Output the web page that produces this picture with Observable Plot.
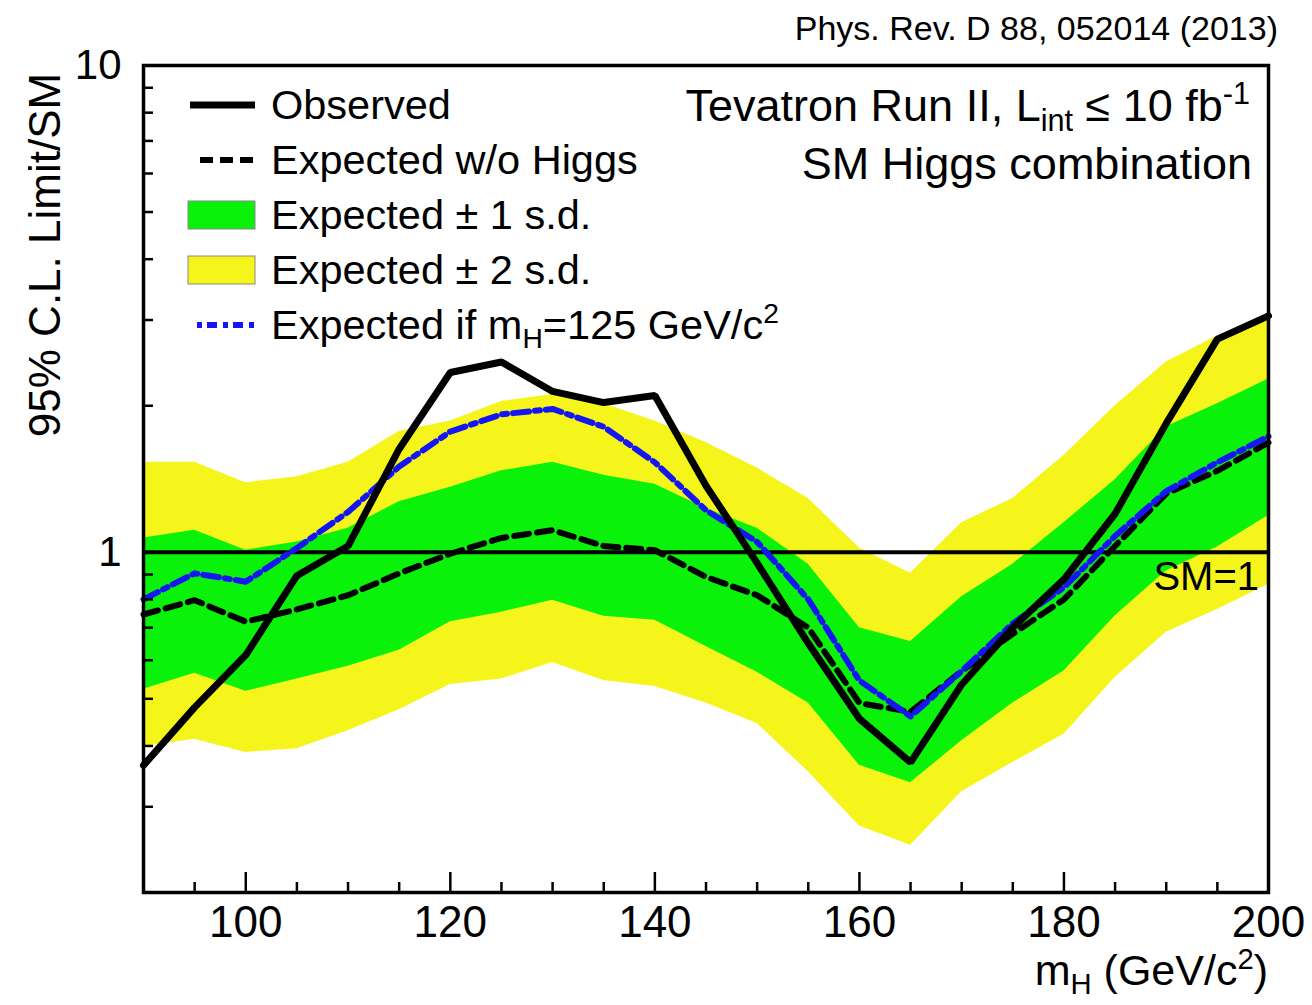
<!DOCTYPE html>
<html><head><meta charset="utf-8">
<script src="https://cdn.jsdelivr.net/npm/d3@7"></script>
<script src="https://cdn.jsdelivr.net/npm/@observablehq/plot@0.6"></script>
<style>
body{margin:0;background:#fff;}
#chart{width:1312px;height:1005px;}
</style></head><body><div id="chart"></div>
<script>
// Higgs mass points (GeV/c^2)
const mass = [90,95,100,105,110,115,120,125,130,135,140,145,150,155,160,165,170,175,180,185,190,195,200];
// 95% C.L. limit / SM
const observed    = [0.365,0.48,0.615,0.895,1.03,1.63,2.34,2.46,2.14,2.03,2.10,1.37,0.95,0.65,0.455,0.37,0.535,0.70,0.88,1.20,1.84,2.74,3.06];
const expected    = [0.745,0.797,0.72,0.763,0.816,0.905,0.993,1.07,1.11,1.03,1.01,0.89,0.816,0.70,0.49,0.47,0.57,0.68,0.80,1.03,1.32,1.47,1.68];
const expected125 = [0.80,0.905,0.87,1.02,1.21,1.50,1.77,1.92,1.97,1.81,1.53,1.22,1.05,0.80,0.545,0.46,0.57,0.714,0.847,1.08,1.335,1.53,1.73];
const band1Hi = [1.07,1.11,1.01,1.05,1.12,1.27,1.36,1.47,1.53,1.44,1.38,1.23,1.12,0.945,0.70,0.656,0.81,0.945,1.15,1.41,1.81,2.02,2.27];
const band1Lo = [0.523,0.564,0.518,0.549,0.583,0.629,0.72,0.753,0.797,0.739,0.725,0.64,0.567,0.49,0.365,0.336,0.41,0.49,0.57,0.74,0.915,1.025,1.19];
const band2Hi = [1.53,1.53,1.39,1.43,1.53,1.77,1.86,2.04,2.11,2.02,1.86,1.68,1.49,1.29,1.02,0.905,1.15,1.29,1.58,2.0,2.46,2.78,3.01];
const band2Lo = [0.399,0.413,0.388,0.395,0.43,0.475,0.535,0.549,0.594,0.545,0.53,0.49,0.445,0.354,0.274,0.25,0.322,0.37,0.423,0.553,0.685,0.763,0.86];
const smLevel = [1];

// tick values / labels
const xTickLabels = [100,120,140,160,180,200];
const xMinorTicks = [95,105,110,115,125,130,135,145,150,155,165,170,175,185,190,195];
const yTickLabels = [1,10];
const yMinorTicks = [0.2,0.3,0.4,0.5,0.6,0.7,0.8,0.9,2,3,4,5,6,7,8,9];

const rows = mass.map((m,i)=>({m, obs:observed[i], exp:expected[i], e125:expected125[i],
  lo1:band1Lo[i], hi1:band1Hi[i], lo2:band2Lo[i], hi2:band2Hi[i]}));

const FONT = "'Liberation Sans', Arial, Helvetica, sans-serif";
const YELLOW = "#f5f51c", GREEN = "#0af20a", BLUE = "#1616f5";

const plot = Plot.plot({
  width:1312, height:1005,
  marginLeft:143, marginRight:44, marginTop:65, marginBottom:113,
  x:{domain:[90,200]},
  y:{type:"log", domain:[0.2,10]},
  style:{fontFamily:FONT, background:"white", color:"black"},
  marks:[
    Plot.areaY(rows,{x:"m", y1:"lo2", y2:"hi2", fill:YELLOW}),
    Plot.areaY(rows,{x:"m", y1:"lo1", y2:"hi1", fill:GREEN}),
    Plot.ruleY(smLevel,{stroke:"black", strokeWidth:4}),
    Plot.line(rows,{x:"m", y:"exp", stroke:"black", strokeWidth:6, strokeDasharray:"15,8"}),
    Plot.line(rows,{x:"m", y:"e125", stroke:BLUE, strokeWidth:6, strokeDasharray:"16,6,5,6"}),
    Plot.line(rows,{x:"m", y:"obs", stroke:"black", strokeWidth:7, strokeLinejoin:"miter"}),
    // x ticks (inward)
    Plot.axisX({ticks:xTickLabels, tickSize:20, dy:-20, tickFormat:()=>"", label:null, strokeWidth:2.5}),
    Plot.axisX({ticks:xMinorTicks, tickSize:10, dy:-10, tickFormat:()=>"", label:null, strokeWidth:2.5}),
    Plot.axisX({ticks:xTickLabels, tickSize:0, tickPadding:13, fontSize:44, label:null, tickFormat:d=>String(d)}),
    // y ticks (inward)
    Plot.axisY({ticks:yTickLabels, tickSize:20, dx:20, tickFormat:()=>"", label:null, strokeWidth:2.5}),
    Plot.axisY({ticks:yMinorTicks, tickSize:10, dx:10, tickFormat:()=>"", label:null, strokeWidth:2.5}),
    Plot.axisY({ticks:yTickLabels, tickSize:0, tickPadding:22, fontSize:42, label:null, tickFormat:d=>String(d)}),
    Plot.frame({stroke:"black", strokeWidth:3.5})
  ]
});

const svg = d3.select(plot);
svg.style("overflow","visible");
const g = svg.append("g").attr("font-family", FONT).attr("fill","black");

function addText(x, y, parts, size, anchor){
  const t = g.append("text").attr("x",x).attr("y",y).attr("font-size",size).attr("text-anchor",anchor||"start");
  let shift = 0;
  for (const p of parts){
    const s = typeof p === "string" ? {t:p} : p;
    const ts = t.append("tspan").text(s.t);
    const target = s.sub ? size*0.22 : s.sup ? -size*0.38 : 0;
    if (target !== shift){ ts.attr("dy", target - shift); shift = target; }
    if (s.sub || s.sup) ts.attr("font-size", size*0.68);
  }
  return t;
}

// reference note
addText(1278, 40, ["Phys. Rev. D 88, 052014 (2013)"], 34, "end");
// axis labels
addText(0,0,["95% C.L. Limit/SM"], 44, "middle").attr("transform","translate(60,255) rotate(-90)");
addText(1268, 985, ["m", {t:"H",sub:true}, " (GeV/c", {t:"2",sup:true}, ")"], 43, "end");
// annotations
addText(1250, 121, ["Tevatron Run II, L", {t:"int",sub:true}, " \u2264 10 fb", {t:"-1",sup:true}], 45, "end");
addText(1252, 179, ["SM Higgs combination"], 45, "end");
addText(1259, 590, ["SM=1"], 40, "end");

// legend
const L = svg.append("g");
const rowsY = [105,160,215,270,325];
L.append("line").attr("x1",190).attr("x2",255).attr("y1",rowsY[0]).attr("y2",rowsY[0]).attr("stroke","black").attr("stroke-width",7);
L.append("line").attr("x1",200).attr("x2",255).attr("y1",rowsY[1]).attr("y2",rowsY[1]).attr("stroke","black").attr("stroke-width",6).attr("stroke-dasharray","13,7");
L.append("rect").attr("x",188).attr("y",rowsY[2]-14).attr("width",67).attr("height",28).attr("fill",GREEN).attr("stroke","#888").attr("stroke-width",1);
L.append("rect").attr("x",188).attr("y",rowsY[3]-14).attr("width",67).attr("height",28).attr("fill",YELLOW).attr("stroke","#888").attr("stroke-width",1);
L.append("line").attr("x1",197).attr("x2",255).attr("y1",rowsY[4]).attr("y2",rowsY[4]).attr("stroke",BLUE).attr("stroke-width",6).attr("stroke-dasharray","5,5,10,6");
const legendTexts = [
  ["Observed"],
  ["Expected w/o Higgs"],
  ["Expected \u00b1 1 s.d."],
  ["Expected \u00b1 2 s.d."],
  ["Expected if m", {t:"H",sub:true}, "=125 GeV/c", {t:"2",sup:true}]
];
legendTexts.forEach((p,i)=> addText(271, rowsY[i]+14, p, 41.5, "start"));

document.getElementById("chart").appendChild(plot);
</script>
</body></html>
